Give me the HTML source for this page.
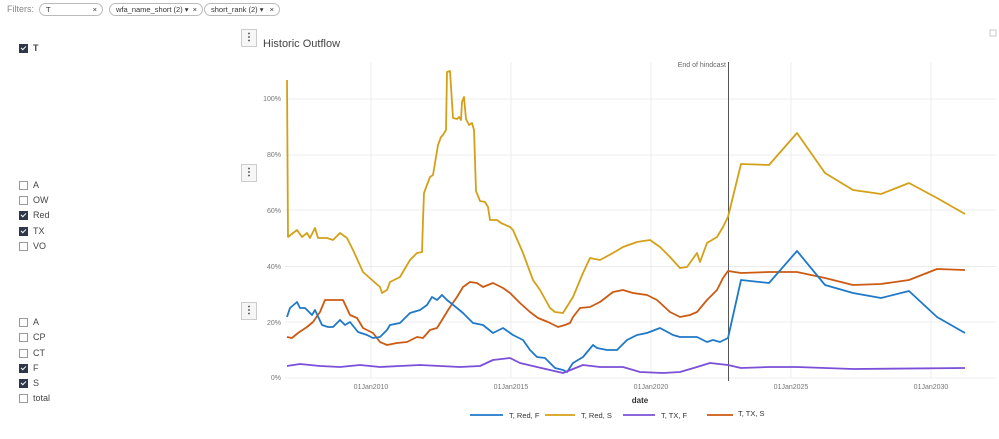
<!DOCTYPE html>
<html><head><meta charset="utf-8"><style>
body{margin:0;width:999px;height:439px;overflow:hidden;background:#fff;font-family:"Liberation Sans",sans-serif;position:relative}
.t{position:absolute;font-size:9px;color:#333;white-space:nowrap}
.cb{position:absolute;font-size:9px;color:#444;display:flex;align-items:center}
.cb i{display:inline-block;width:7px;height:7px;border:1px solid #999;margin-right:5px;box-sizing:content-box}
.cb i.on{background:#2d3748;border-color:#2d3748;position:relative}
.cb i.on:after{content:"";position:absolute;left:2px;top:0;width:2px;height:4px;border:solid #fff;border-width:0 1px 1px 0;transform:rotate(45deg)}
.pill{position:absolute;top:3px;height:11px;border:1px solid #bbb;border-radius:7px;font-size:7.5px;color:#333;line-height:11px;padding:0 6px;box-sizing:content-box;white-space:nowrap;overflow:hidden}
.mb{position:absolute;width:14px;height:16px;border:1px solid #ccc;background:#f6f6f6;font-size:10px;line-height:15px;text-align:center;font-weight:bold;color:#333}
</style></head><body>
<div class="t" style="left:7px;top:4px;color:#888">Filters:</div>
<div class="pill" style="left:39px;width:50px">T<span style="position:absolute;right:5px">×</span></div>
<div class="pill" style="left:109px;width:80px">wfa_name_short (2) ▾<span style="position:absolute;right:5px">×</span></div>
<div class="pill" style="left:204px;width:62px">short_rank (2) ▾<span style="position:absolute;right:5px">×</span></div>
<div class="cb" style="left:19px;top:43px"><i class="on"></i><b>T</b></div>
<div class="cb" style="left:19px;top:180px"><i></i>A</div>
<div class="cb" style="left:19px;top:195px"><i></i>OW</div>
<div class="cb" style="left:19px;top:210px"><i class="on"></i>Red</div>
<div class="cb" style="left:19px;top:226px"><i class="on"></i>TX</div>
<div class="cb" style="left:19px;top:241px"><i></i>VO</div>
<div class="cb" style="left:19px;top:317px"><i></i>A</div>
<div class="cb" style="left:19px;top:332px"><i></i>CP</div>
<div class="cb" style="left:19px;top:348px"><i></i>CT</div>
<div class="cb" style="left:19px;top:363px"><i class="on"></i>F</div>
<div class="cb" style="left:19px;top:378px"><i class="on"></i>S</div>
<div class="cb" style="left:19px;top:393px"><i></i>total</div>
<div class="mb" style="left:241px;top:29px">⋮</div>
<div class="mb" style="left:241px;top:164px">⋮</div>
<div class="mb" style="left:241px;top:302px">⋮</div>
<div class="t" style="left:263px;top:38px;font-size:11px;color:#444">Historic Outflow</div>
<svg width="999" height="439" style="position:absolute;left:0;top:0" font-family="Liberation Sans, sans-serif">
<g stroke="#ececec" stroke-width="1">
<line x1="285" x2="996" y1="99" y2="99"/><line x1="285" x2="996" y1="155" y2="155"/><line x1="285" x2="996" y1="210" y2="210"/><line x1="285" x2="996" y1="266.5" y2="266.5"/><line x1="285" x2="996" y1="322" y2="322"/><line x1="285" x2="996" y1="378" y2="378"/>
<line x1="371" x2="371" y1="62" y2="378"/><line x1="511" x2="511" y1="62" y2="378"/><line x1="651" x2="651" y1="62" y2="378"/><line x1="791" x2="791" y1="62" y2="378"/><line x1="931" x2="931" y1="62" y2="378"/>
</g>
<g font-size="7" fill="#777" text-anchor="end">
<text x="281" y="101">100%</text><text x="281" y="157">80%</text><text x="281" y="213">60%</text><text x="281" y="269">40%</text><text x="281" y="325">20%</text><text x="281" y="380">0%</text>
</g>
<g font-size="7" fill="#777" text-anchor="middle">
<text x="371" y="389">01Jan2010</text><text x="511" y="389">01Jan2015</text><text x="651" y="389">01Jan2020</text><text x="791" y="389">01Jan2025</text><text x="931" y="389">01Jan2030</text>
</g>
<text x="640" y="403" font-size="8" font-weight="bold" fill="#333" text-anchor="middle">date</text>
<line x1="728.5" x2="728.5" y1="62" y2="381" stroke="#555" stroke-width="1"/>
<text x="726" y="67" font-size="7" fill="#666" text-anchor="end">End of hindcast</text>
<g fill="none" stroke-width="1.8" stroke-linejoin="round">
<polyline stroke="#d4a017" points="287,80 288,237 297,230 302,237 307,233 310,238 315,228 318,238 327,238 333,240 340,233 347,238 353,250 363,272 372,280 380,287 382,293 387,290 390,282 400,277 410,260 417,253 422,252 423,220 424,193 430,177 433,175 438,145 441,137 443,135 446,130 447,72 450,71 453,118 457,119 459,117 461,120 462,102 464,97 466,119 469,125 472,123 474,130 476,191 480,201 485,202 488,207 490,220 497,220 501,223 510,227 513,230 523,253 533,280 540,290 550,308 555,312 563,313 573,297 583,273 590,258 600,260 613,253 623,247 637,242 650,240 660,247 670,257 680,268 687,267 697,253 700,262 707,243 717,237 723,227 728,217 741,164 769,165 797,133 825,173 853,190 881,194 909,183 937,198 965,214"/>
<polyline stroke="#cc5a12" points="287,337 292,338 298,333 307,327 313,322 320,312 325,300 343,300 350,315 357,318 363,328 373,333 380,342 387,345 397,343 407,342 417,337 423,338 430,330 437,328 442,320 450,307 457,297 463,287 470,282 477,283 483,287 493,283 503,288 510,293 520,303 530,312 538,318 548,322 558,327 565,325 570,323 573,317 580,308 590,307 600,302 613,292 623,290 633,293 647,295 657,300 670,312 680,317 690,315 697,312 707,300 717,290 723,278 728,271 741,273 769,272 797,272 825,278 853,285 881,284 909,280 937,269 965,270"/>
<polyline stroke="#1f78c8" points="287,317 290,308 297,302 300,308 305,308 312,315 315,310 322,325 328,327 333,327 340,320 345,325 350,322 358,332 367,335 373,338 380,337 387,330 390,325 400,323 410,313 420,310 427,305 432,297 437,300 442,295 447,300 457,308 463,313 473,323 483,325 493,333 503,328 513,335 523,340 530,350 537,357 545,358 555,368 563,370 567,372 573,363 583,357 593,345 597,348 607,350 617,350 627,340 637,335 647,333 660,328 673,335 680,337 697,337 707,342 713,340 720,342 728,338 741,280 769,283 797,251 825,285 853,293 881,298 909,291 937,317 965,333"/>
<polyline stroke="#7b4fd8" points="287,366 300,364 320,366 340,367 360,365 380,367 400,366 420,365 440,366 460,367 480,366 493,360 510,358 520,363 537,367 563,373 583,365 600,367 623,367 640,372 663,373 680,372 697,367 710,363 728,365 741,368 769,367 797,367 853,369 965,368"/>
</g>
<g stroke-width="1.8">
<line x1="470" x2="503" y1="415" y2="415" stroke="#1f78c8"/><line x1="545" x2="575" y1="415" y2="415" stroke="#d4a017"/><line x1="623" x2="655" y1="415" y2="415" stroke="#7b4fd8"/><line x1="707" x2="733" y1="415" y2="415" stroke="#cc5a12"/>
</g>
<g font-size="7.5" fill="#333">
<text x="509" y="418">T, Red, F</text><text x="581" y="418">T, Red, S</text><text x="661" y="418">T, TX, F</text><text x="738" y="416">T, TX, S</text>
</g>
<rect x="990" y="30" width="6" height="6" fill="none" stroke="#bbb" stroke-width="0.8"/>
</svg>
</body></html>
